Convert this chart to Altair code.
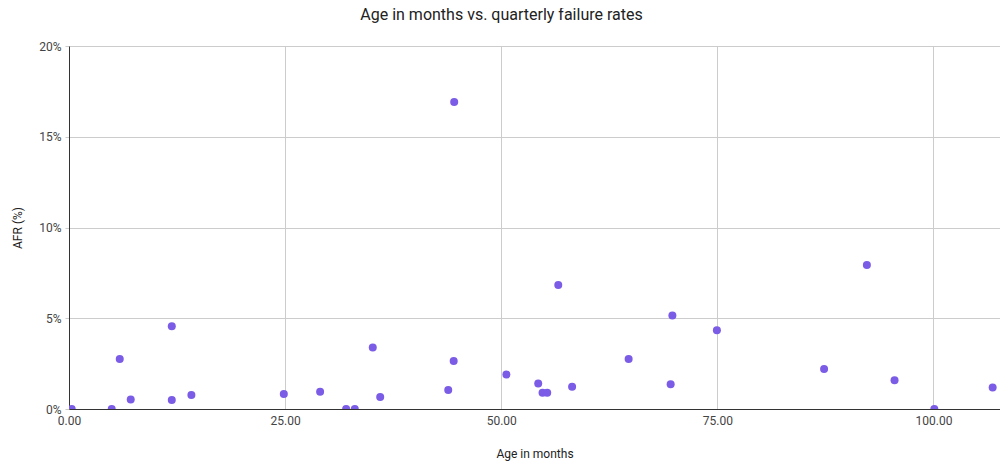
import altair as alt
import pandas as pd

age_months = [0.31, 4.94, 5.87, 7.14, 11.89, 11.89, 14.16, 24.85, 29.05,
              32.06, 33.06, 35.14, 36.0, 43.87, 44.5, 44.56, 50.6, 54.28,
              54.78, 55.32, 56.6, 58.2, 64.74, 69.6, 69.8, 74.95, 87.35,
              92.3, 95.5, 100.1, 106.85]
afr_pct = [0.0, 0.0, 2.76, 0.53, 4.56, 0.49, 0.77, 0.82, 0.95,
           0.0, 0.0, 3.39, 0.66, 1.04, 2.64, 16.92, 1.90, 1.41,
           0.90, 0.90, 6.83, 1.23, 2.76, 1.37, 5.15, 4.34, 2.21,
           7.93, 1.58, 0.0, 1.19]

df = pd.DataFrame({"age": age_months, "afr": afr_pct})

FONT = "Roboto"

chart = alt.Chart(df).mark_circle(
    size=64, color="#7b5ce6", opacity=1, clip=True
).encode(
    x=alt.X("age:Q", title="Age in months",
            scale=alt.Scale(domain=[0, 107.7], nice=False, zero=True),
            axis=alt.Axis(values=[0, 25, 50, 75, 100], format=".2f",
                          grid=True, gridColor="#cccccc", ticks=False,
                          labelFlush=False,
                          domainColor="#333333", labelPadding=6,
                          titlePadding=22)),
    y=alt.Y("afr:Q", title="AFR (%)",
            scale=alt.Scale(domain=[0, 20], nice=False),
            axis=alt.Axis(values=[0, 5, 10, 15, 20],
                          labelExpr="datum.value + '%'",
                          grid=True, gridColor="#cccccc", ticks=True,
                          tickColor="#cccccc", tickSize=4,
                          domainColor="#333333", labelPadding=4,
                          titlePadding=14)),
).properties(
    width=931,
    height=363,
    title=alt.TitleParams("Age in months vs. quarterly failure rates",
                          fontSize=16, font=FONT, fontWeight="normal",
                          color="#222222", anchor="middle", dx=-33,
                          offset=17),
    autosize=alt.AutoSizeParams(type="none"),
    padding={"left": 61, "top": 38, "right": 0, "bottom": 56},
).configure_axis(
    labelFont=FONT, titleFont=FONT, labelFontSize=12, titleFontSize=12,
    labelColor="#444444", titleColor="#222222", titleFontWeight="normal",
    domainWidth=1,
).configure_view(stroke=None)

chart.save("out.html", embed_options={"renderer": "svg", "actions": False})
